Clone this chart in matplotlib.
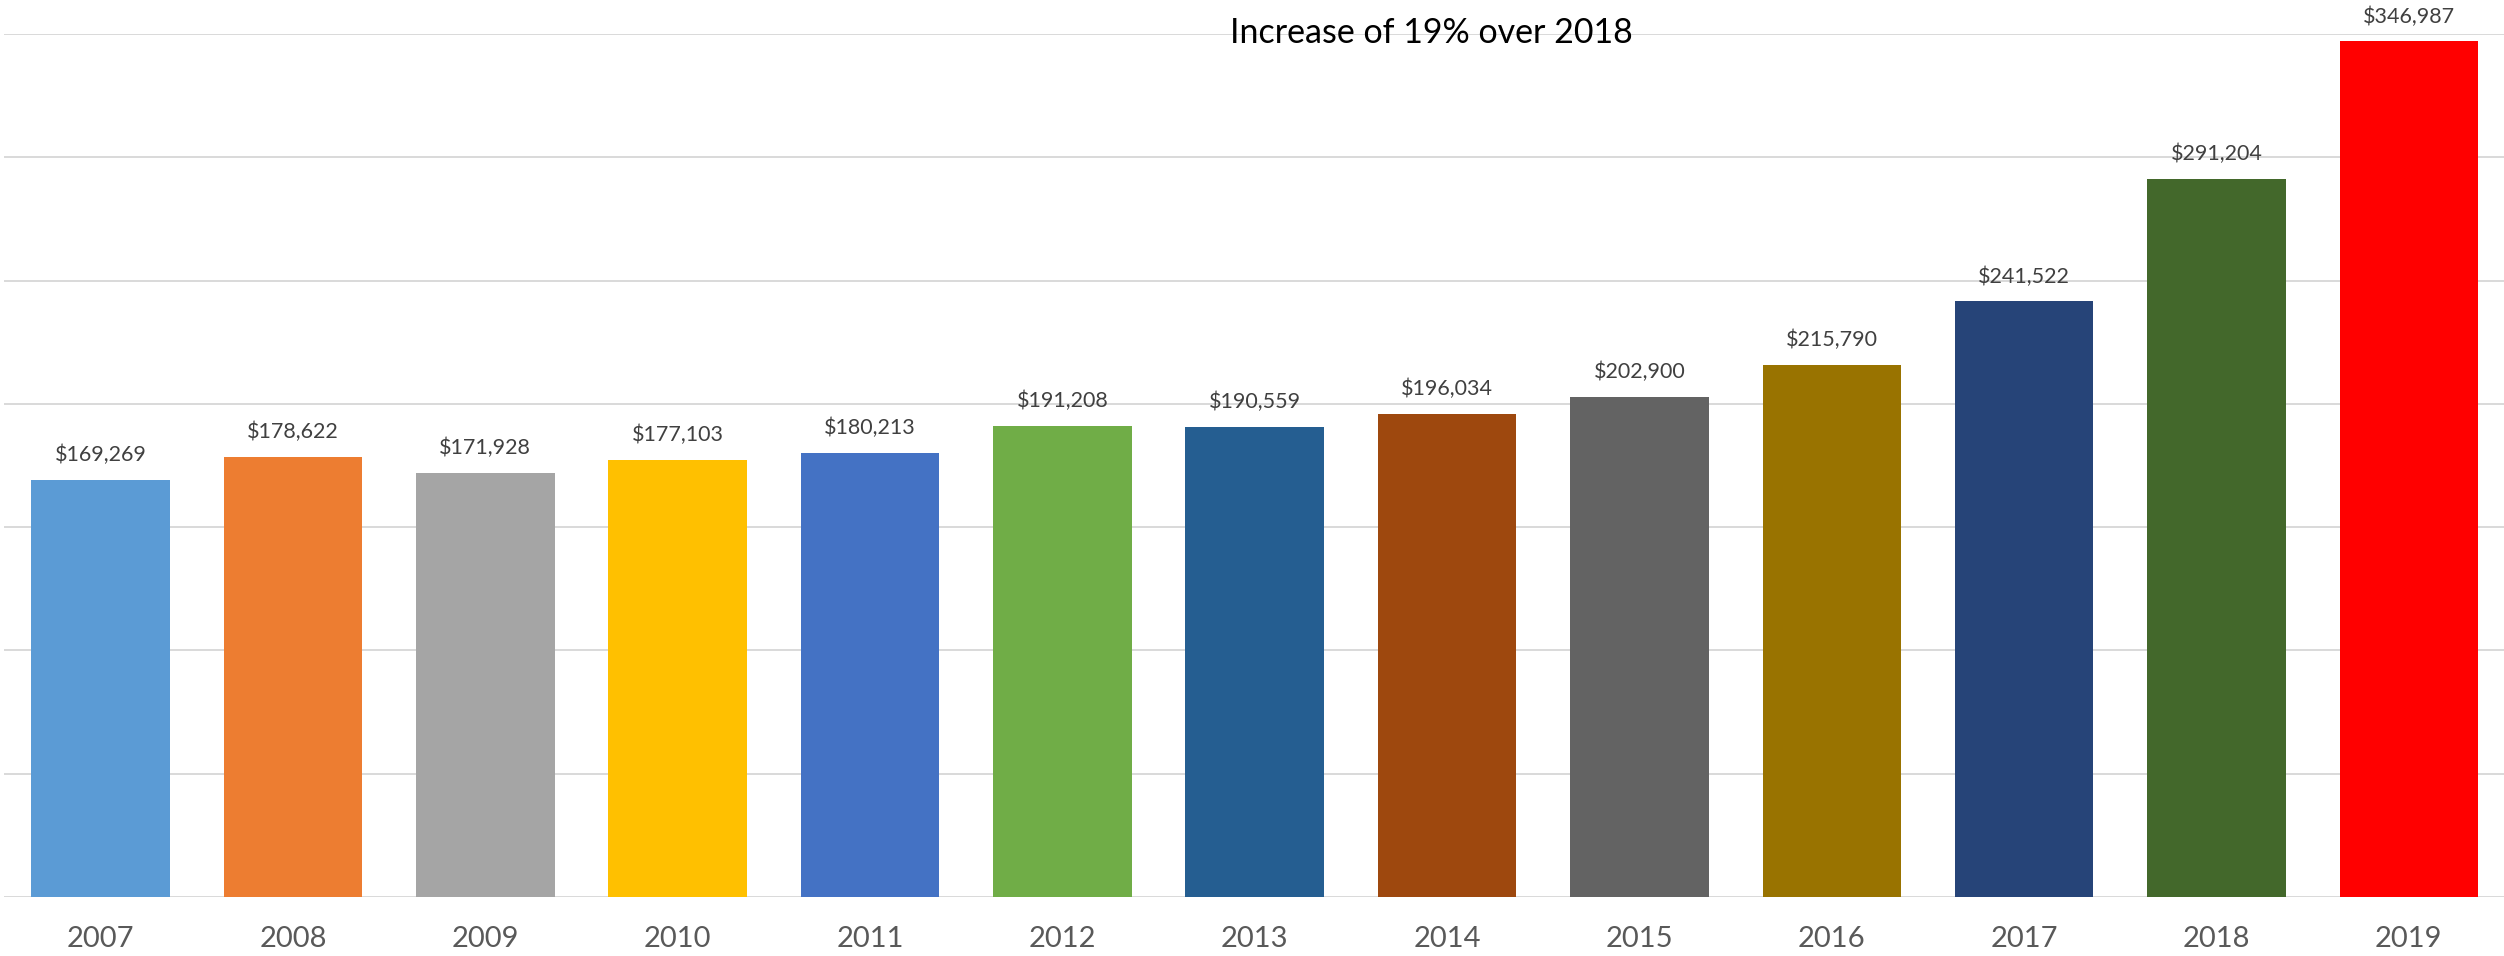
import matplotlib
matplotlib.use("Agg")
import matplotlib.pyplot as plt

years = ["2007", "2008", "2009", "2010", "2011", "2012", "2013",
         "2014", "2015", "2016", "2017", "2018", "2019"]
values = [169269, 178622, 171928, 177103, 180213, 191208, 190559,
          196034, 202900, 215790, 241522, 291204, 346987]
colors = ["#5B9BD5", "#ED7D31", "#A5A5A5", "#FFC000", "#4472C4", "#70AD47",
          "#255E91", "#9E480E", "#636363", "#997300", "#264478", "#43682B",
          "#FF0000"]
title = "Increase of 19% over 2018"

plt.rcParams["font.family"] = ["Lato", "DejaVu Sans"]

fig = plt.figure(figsize=(25.04, 9.56), dpi=100)
W, H = 2504, 956
ax = fig.add_axes([4.4 / W, (H - 897) / H, (2505 - 4.4) / W, (897 - 34) / H])

x = list(range(len(years)))
bars = ax.bar(x, values, width=0.72, color=colors, zorder=2)

# value labels above each bar
for xi, v in zip(x, values):
    ax.annotate(f"${v:,}", (xi, v), xytext=(0, 13.5), textcoords="offset points",
                ha="center", va="baseline", fontsize=15.5, color="#404040",
                annotation_clip=False)

ax.set_xlim(-0.5, len(years) - 0.5)
ax.set_ylim(0, 350000)
ax.set_yticks(range(0, 350001, 50000))
ax.set_yticklabels([])
ax.yaxis.grid(True, color="#D9D9D9", linewidth=1.4, zorder=0)
ax.set_axisbelow(True)
ax.set_xticks(x)
ax.set_xticklabels(years, fontsize=21, color="#595959")
ax.tick_params(axis="both", length=0)
ax.tick_params(axis="x", pad=21)
for s in ax.spines.values():
    s.set_visible(False)

fig.text(1431 / W, (H - 43) / H, title, ha="center", va="baseline",
         fontsize=24.5, color="black")

fig.savefig("out.png", dpi=100)
